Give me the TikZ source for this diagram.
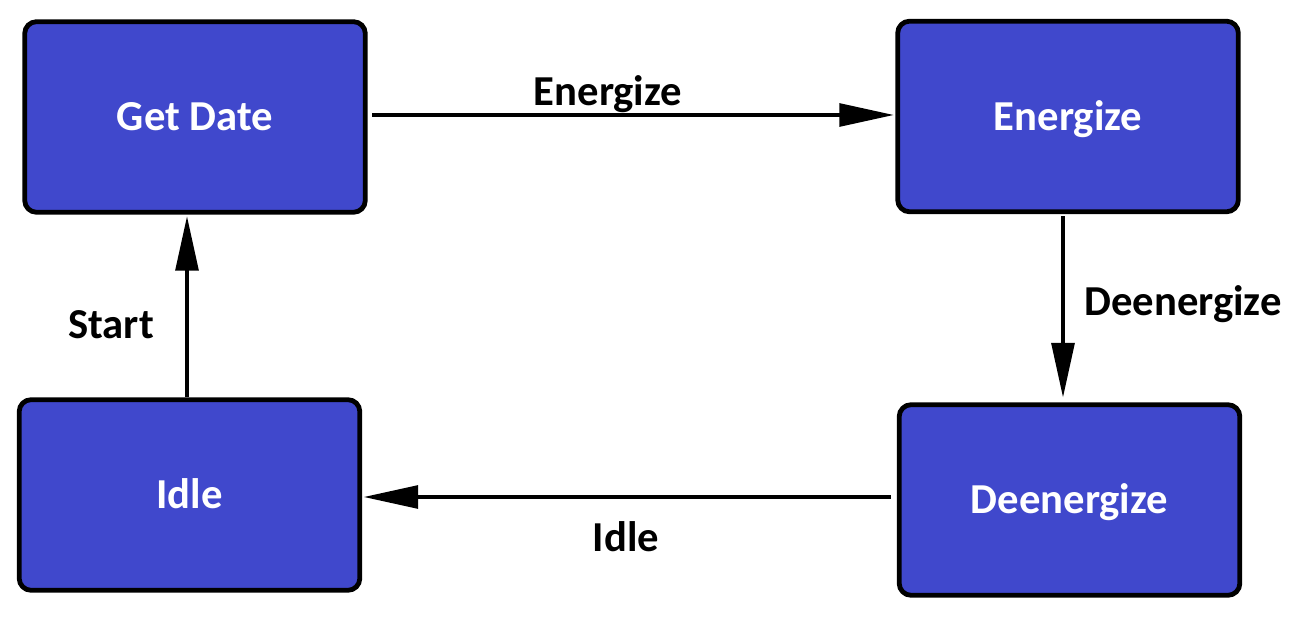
\documentclass[tikz,border=0pt]{standalone}
\usepackage{fontspec}
\setmainfont{Carlito}
\usetikzlibrary{arrows.meta,calc}

\definecolor{stateblue}{RGB}{64,72,204}

\tikzset{every picture/.style={line width=0.75pt}}
\tikzset{
  statebox/.style={draw=black, line width=3.6pt, fill=stateblue, rounded corners=9pt,
    minimum width=255.5pt, minimum height=143pt, text=white, inner sep=0pt,
    text height=20.5pt, text depth=0pt,
    font=\bfseries\fontsize{32}{38}\selectfont},
  translabel/.style={text=black, inner sep=0.75pt, text height=20.5pt, text depth=0pt,
    font=\bfseries\fontsize{32}{38}\selectfont},
  transarrow/.style={draw=black, line width=3pt, -{Triangle[length=41pt,width=17pt]}}
}

\begin{document}
\begin{tikzpicture}[x=0.75pt,y=0.75pt,yscale=-1,xscale=1]
            \path[use as bounding box] (0,0) rectangle (1296,623);

            %Shape: Rounded Rect [id:getdate]
            \node[statebox] (getdate) at (195,117) {Get Date};
            %Shape: Rounded Rect [id:energize]
            \node[statebox] (energize) at (1068,116.5) {Energize};
            %Shape: Rounded Rect [id:deenergize]
            \node[statebox] (deenergize) at (1069.5,500) {Deenergize};
            %Shape: Rounded Rect [id:idle]
            \node[statebox] (idle) at (189.5,495) {Idle};

            %Straight Lines [id:getdate-energize]
            \draw[transarrow, shorten <=3.5pt, shorten >=1pt] ($(getdate.east)+(0,-2)$) -- ($(energize.west)+(0,-1.5)$);
            %Straight Lines [id:energize-deenergize]
            \draw[transarrow, shorten <=1.5pt, shorten >=3.5pt] ($(energize.south)+(-5,0)$) -- ($(deenergize.north)+(-6.5,0)$);
            %Straight Lines [id:deenergize-idle]
            \draw[transarrow, shorten <=4.5pt, shorten >=1pt] ($(deenergize.west)+(0,-3)$) -- ($(idle.east)+(0,2)$);
            %Straight Lines [id:idle-getdate]
            \draw[transarrow, shorten >=1pt] ($(idle.north)+(-2.5,0)$) -- ($(getdate.south)+(-8,0)$);

            % Text Node
            \node[translabel] (lblenergize) at (608,92) {Energize};
            % Text Node
            \node[translabel] (lbldeenergize) at (1183,302) {Deenergize};
            % Text Node
            \node[translabel] (lblidle) at (626,538) {Idle};
            % Text Node
            \node[translabel] (lblstart) at (111,325) {Start};

\end{tikzpicture}
\end{document}
